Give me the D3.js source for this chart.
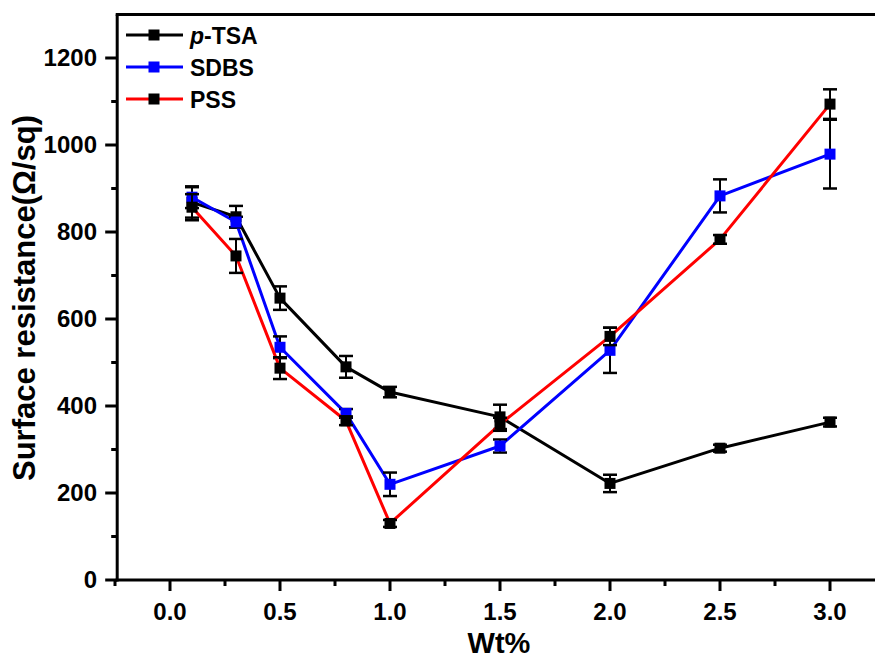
<!DOCTYPE html>
<html>
<head>
<meta charset="utf-8">
<script src="https://cdn.jsdelivr.net/npm/d3@7"></script>
<style>
  html, body { margin: 0; padding: 0; background: #fff; }
  svg { display: block; font-family: "Liberation Sans", Arial, sans-serif; font-weight: bold; }
</style>
</head>
<body>
<svg id="chart" width="875" height="659"></svg>
<script>
// Surface resistance vs. dopant content for three surfactants
const wt = [0.1, 0.3, 0.5, 0.8, 1.0, 1.5, 2.0, 2.5, 3.0];

const tsaValues  = [868, 835, 648, 490, 432, 375, 222, 303, 363];
const tsaErrors  = [35, 25, 27, 25, 12, 28, 20, 8, 10];

const sdbsValues = [880, 823, 535, 383, 220, 308, 528, 883, 979];
const sdbsErrors = [25, 12, 25, 10, 27, 15, 52, 38, 79];

const pssValues  = [857, 745, 487, 366, 130, 358, 560, 783, 1094];
const pssErrors  = [30, 39, 25, 10, 8, 15, 20, 10, 34];

const xTicks = [0.0, 0.5, 1.0, 1.5, 2.0, 2.5, 3.0];
const yTicks = [0, 200, 400, 600, 800, 1000, 1200];

const seriesNames = ["p-TSA", "SDBS", "PSS"];

const svg = d3.select("#chart");

const x = d3.scaleLinear().domain([-0.24, 3.25]).range([117.2, 885]);
const y = d3.scaleLinear().domain([0, 1300]).range([580, 14.5]);

const series = [
  { name: seriesNames[0], values: tsaValues,  errors: tsaErrors,  line: "#000000", marker: "#000000" },
  { name: seriesNames[1], values: sdbsValues, errors: sdbsErrors, line: "#0000ff", marker: "#0000ff" },
  { name: seriesNames[2], values: pssValues,  errors: pssErrors,  line: "#ff0000", marker: "#000000" }
];

// frame: left, bottom and top spines
const x0 = x.range()[0], x1 = 875;
svg.append("line").attr("x1", x0).attr("x2", x0).attr("y1", y(1300)).attr("y2", y(0) + 1.5)
  .attr("stroke", "#000").attr("stroke-width", 3);
svg.append("line").attr("x1", x0 - 1.5).attr("x2", x1).attr("y1", y(0)).attr("y2", y(0))
  .attr("stroke", "#000").attr("stroke-width", 3);
svg.append("line").attr("x1", x0 - 1.5).attr("x2", x1).attr("y1", y(1300)).attr("y2", y(1300))
  .attr("stroke", "#000").attr("stroke-width", 3);

// x axis ticks
const xMinor = d3.range(-0.25, 3.3, 0.25).filter(v => x(v) >= x0 - 3 && Math.abs(v * 2 - Math.round(v * 2)) > 1e-6);
svg.selectAll(".xmaj").data(xTicks).join("line")
  .attr("x1", d => x(d)).attr("x2", d => x(d))
  .attr("y1", y(0)).attr("y2", y(0) + 11)
  .attr("stroke", "#000").attr("stroke-width", 3);
svg.selectAll(".xmin").data(xMinor).join("line")
  .attr("x1", d => x(d)).attr("x2", d => x(d))
  .attr("y1", y(0)).attr("y2", y(0) + 6)
  .attr("stroke", "#000").attr("stroke-width", 3);
svg.selectAll(".xlab").data(xTicks).join("text")
  .attr("x", d => x(d)).attr("y", 620)
  .attr("text-anchor", "middle").attr("font-size", 24)
  .text(d => d3.format(".1f")(d));

// y axis ticks
const yMinor = d3.range(100, 1300, 200);
svg.selectAll(".ymaj").data(yTicks).join("line")
  .attr("x1", x0 - 12).attr("x2", x0)
  .attr("y1", d => y(d)).attr("y2", d => y(d))
  .attr("stroke", "#000").attr("stroke-width", 3);
svg.selectAll(".ymin").data(yMinor).join("line")
  .attr("x1", x0 - 6).attr("x2", x0)
  .attr("y1", d => y(d)).attr("y2", d => y(d))
  .attr("stroke", "#000").attr("stroke-width", 3);
svg.selectAll(".ylab").data(yTicks).join("text")
  .attr("x", 97).attr("y", d => y(d) + 8)
  .attr("text-anchor", "end").attr("font-size", 24)
  .text(d => d);

// axis titles
svg.append("text")
  .attr("transform", "translate(35," + 298 + ") rotate(-90)")
  .attr("text-anchor", "middle").attr("font-size", 31)
  .text("Surface resistance(\u03A9/sq)");
svg.append("text")
  .attr("x", 499).attr("y", 653)
  .attr("text-anchor", "middle").attr("font-size", 29)
  .text("Wt%");

// data
const lineGen = d3.line().x(d => x(d.x)).y(d => y(d.v));
const ms = 11;
series.forEach(s => {
  const pts = wt.map((w, i) => ({ x: w, v: s.values[i], e: s.errors[i] }));
  const g = svg.append("g");
  g.append("path").datum(pts)
    .attr("d", lineGen).attr("fill", "none")
    .attr("stroke", s.line).attr("stroke-width", 3).attr("stroke-linejoin", "round");
  // error bars
  g.selectAll(".eb").data(pts).join("line")
    .attr("x1", d => x(d.x)).attr("x2", d => x(d.x))
    .attr("y1", d => y(d.v + d.e)).attr("y2", d => y(d.v - d.e))
    .attr("stroke", "#000").attr("stroke-width", 2);
  [1, -1].forEach(sgn => {
    g.selectAll(".cap" + sgn).data(pts).join("line")
      .attr("x1", d => x(d.x) - 7).attr("x2", d => x(d.x) + 7)
      .attr("y1", d => y(d.v + sgn * d.e)).attr("y2", d => y(d.v + sgn * d.e))
      .attr("stroke", "#000").attr("stroke-width", 2.5);
  });
  g.selectAll("rect").data(pts).join("rect")
    .attr("x", d => x(d.x) - ms / 2).attr("y", d => y(d.v) - ms / 2)
    .attr("width", ms).attr("height", ms)
    .attr("fill", s.marker);
});

// legend
const legendRows = [35, 67, 99];
series.forEach((s, i) => {
  const ly = legendRows[i];
  svg.append("line").attr("x1", 126).attr("x2", 183).attr("y1", ly).attr("y2", ly)
    .attr("stroke", s.line).attr("stroke-width", 3);
  svg.append("rect").attr("x", 154 - ms / 2).attr("y", ly - ms / 2)
    .attr("width", ms).attr("height", ms).attr("fill", s.marker);
  const t = svg.append("text").attr("x", 190).attr("y", ly + 8.5).attr("font-size", 23);
  if (s.name.startsWith("p-")) {
    t.append("tspan").attr("font-style", "italic").text("p");
    t.append("tspan").text(s.name.slice(1));
  } else {
    t.text(s.name);
  }
});
</script>
</body>
</html>
